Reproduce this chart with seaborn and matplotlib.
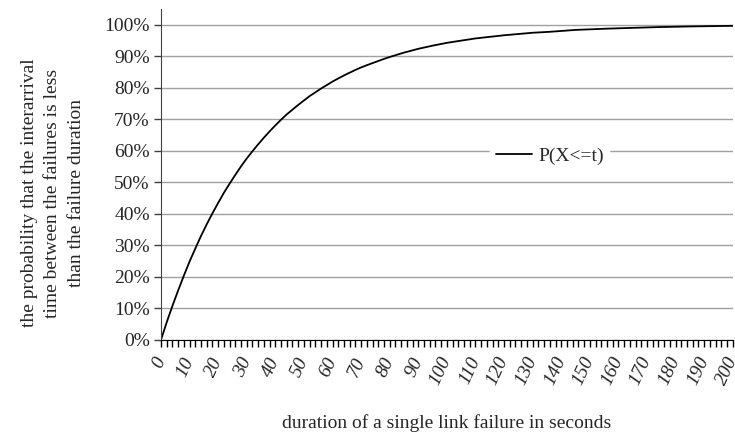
import numpy as np
import pandas as pd
import seaborn as sns
import matplotlib.pyplot as plt
from matplotlib.ticker import MultipleLocator, PercentFormatter

# values
duration = [0, 2, 4, 6, 8, 10, 12, 14, 16, 18, 20, 22, 24, 26, 28, 30, 32, 34,
            36, 38, 40, 42, 44, 46, 48, 50, 52, 54, 56, 58, 60, 62, 65, 68, 70,
            72, 75, 78, 80, 85, 90, 95, 100, 110, 120, 130, 136, 145, 156,
            174, 185, 200]
prob = [0.0, 0.056, 0.108, 0.157, 0.204, 0.249, 0.29, 0.33, 0.367, 0.402,
        0.435, 0.467, 0.496, 0.524, 0.551, 0.576, 0.599, 0.621, 0.642, 0.662,
        0.681, 0.699, 0.716, 0.731, 0.746, 0.76, 0.774, 0.786, 0.798, 0.809,
        0.82, 0.83, 0.844, 0.857, 0.865, 0.872, 0.882, 0.892, 0.898, 0.912,
        0.924, 0.934, 0.943, 0.957, 0.967, 0.975, 0.978, 0.984, 0.988,
        0.993, 0.995, 0.997]
x_labels = list(range(0, 201, 10))
y_ticks = [i / 10 for i in range(11)]

df = pd.DataFrame({'t': duration, 'p': prob})

sns.set_style("white")
plt.rcParams['font.family'] = ['Liberation Serif', 'DejaVu Serif']

fig, ax = plt.subplots(figsize=(7.35, 4.34), dpi=100)
fig.subplots_adjust(left=0.219, right=0.997, bottom=0.2166, top=0.979)

sns.lineplot(data=df, x='t', y='p', ax=ax, color='black', linewidth=1.3,
             label='P(X<=t)')

ax.set_xlim(0, 200)
ax.set_ylim(0, 1.05)
ax.set_yticks(y_ticks)
ax.yaxis.set_major_formatter(PercentFormatter(1.0, decimals=0))
ax.set_xticks(x_labels)
ax.xaxis.set_minor_locator(MultipleLocator(2))
ax.set_xticklabels([str(v) for v in x_labels], rotation=65, style='italic',
                   ha='right', va='center', rotation_mode='anchor')

ax.grid(axis='y', color='#a0a0a0', linewidth=1)
for s in ['top', 'right']:
    ax.spines[s].set_visible(False)
ax.spines['left'].set_color('#404040')
ax.spines['bottom'].set_color('black')
ax.tick_params(axis='y', left=True, length=5, width=1, color='#404040',
               labelsize=14, pad=3)
ax.tick_params(axis='x', which='both', bottom=True, length=5, width=1,
               color='black', labelsize=14, pad=8)

ax.set_xlabel('duration of a single link failure in seconds', fontsize=14,
              labelpad=19)
ax.set_ylabel('the probability that the interarrival\ntime between the failures is less\nthan the failure duration',
              fontsize=14, linespacing=1.5)
ax.yaxis.set_label_coords(-0.133, 0.444)

leg = ax.legend(loc='center', bbox_to_anchor=(0.68, 0.556), frameon=True,
                fontsize=14, handlelength=1.85, handletextpad=0.3,
                borderpad=0.3)
leg.get_frame().set_edgecolor('white')
leg.get_frame().set_facecolor('white')
leg.get_frame().set_alpha(1)

fig.savefig('out.png', dpi=100)
